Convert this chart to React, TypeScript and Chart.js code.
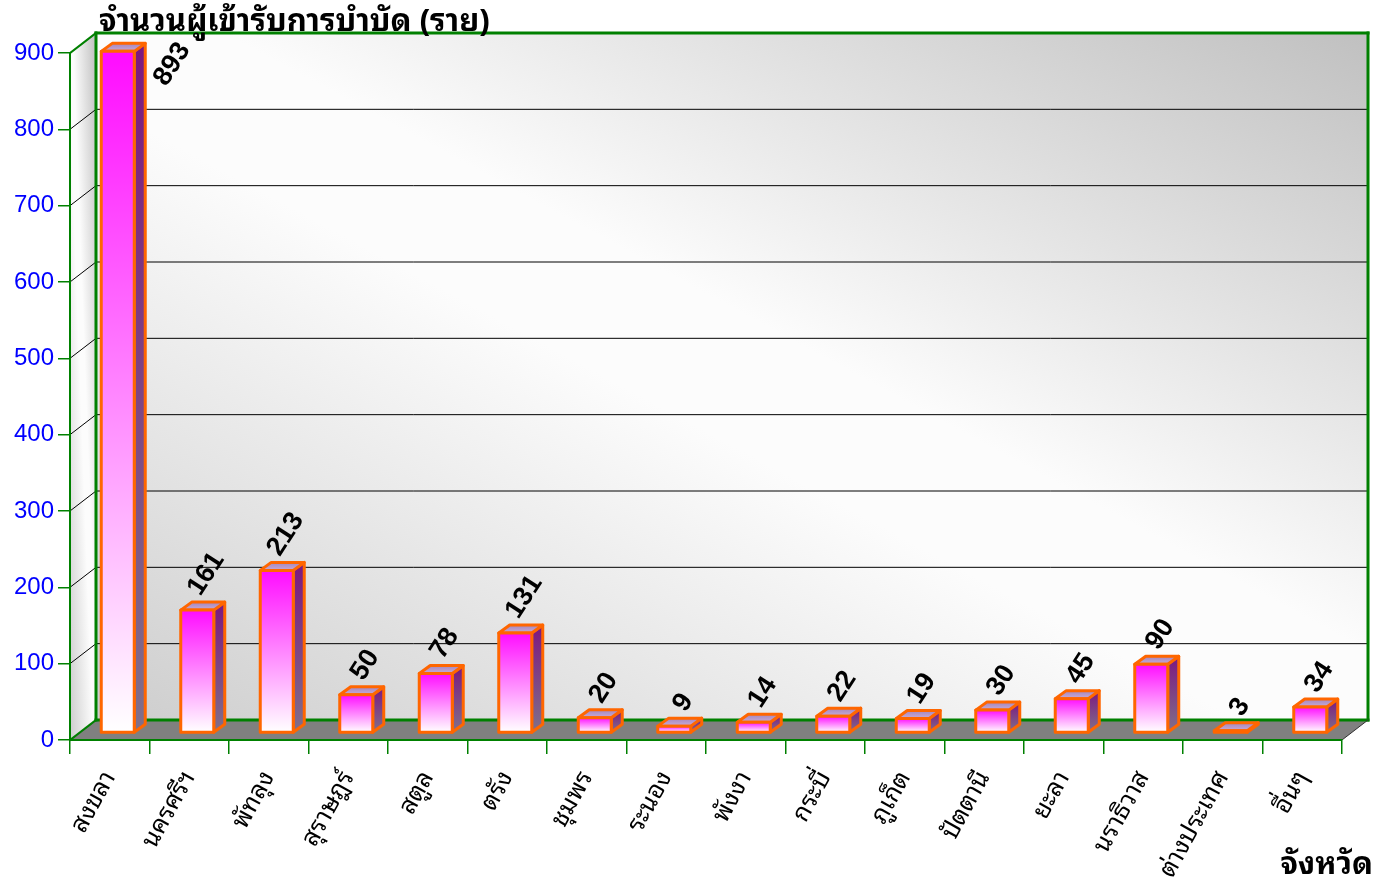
import React, { useEffect, useRef } from 'react';
import { Chart, registerables } from 'chart.js';

Chart.register(...registerables);

// ---- data ----
const categories: string[] = [
  'สงขลา', 'นครศรีฯ', 'พัทลุง', 'สุราษฎร์', 'สตูล', 'ตรัง', 'ชุมพร', 'ระนอง',
  'พังงา', 'กระบี่', 'ภูเก็ต', 'ปัตตานี', 'ยะลา', 'นราธิวาส', 'ต่างประเทศ', 'อื่นๆ',
];
const patients: number[] = [893, 161, 213, 50, 78, 131, 20, 9, 14, 22, 19, 30, 45, 90, 3, 34];
const yTicks: number[] = [0, 100, 200, 300, 400, 500, 600, 700, 800, 900];
const chartTitle = 'จำนวนผู้เข้ารับการบำบัด (ราย)';
const xAxisTitle = 'จังหวัด';

// ---- style ----
const W = 1378;
const H = 883;
const DEPTH_X = 26;
const DEPTH_Y = -20;
const BAR_SHIFT_X = 8;
const BAR_SHIFT_Y = -7;
const BAR_DX = 11;
const BAR_DY = -8;
const GREEN = '#008000';
const ORANGE = '#ff6600';
const THAI =
  "Tahoma, 'Noto Sans Thai Looped', Loma, Garuda, 'Noto Sans Thai', 'Noto Sans Thai UI', 'DejaVu Sans', 'Noto Sans', sans-serif";
const ARIAL = "Arial, 'Liberation Sans', sans-serif";
const LABEL_ANGLE = (57 * Math.PI) / 180;

function diagFill(ctx: CanvasRenderingContext2D, x: number, y: number, w: number, h: number, path: () => void) {
  ctx.save();
  ctx.beginPath();
  path();
  ctx.closePath();
  ctx.clip();
  ctx.translate(x, y);
  ctx.scale(w, h);
  const g = ctx.createLinearGradient(1, 0, 0, 1);
  g.addColorStop(0, '#c0c0c0');
  g.addColorStop(0.45, '#fcfcfc');
  g.addColorStop(0.55, '#fcfcfc');
  g.addColorStop(1, '#cdcdcd');
  ctx.fillStyle = g;
  ctx.fillRect(0, 0, 1, 1);
  ctx.restore();
}

function line(ctx: CanvasRenderingContext2D, x1: number, y1: number, x2: number, y2: number, color: string, width: number) {
  ctx.save();
  ctx.strokeStyle = color;
  ctx.lineWidth = width;
  ctx.lineCap = 'square';
  ctx.beginPath();
  ctx.moveTo(x1, y1);
  ctx.lineTo(x2, y2);
  ctx.stroke();
  ctx.restore();
}

const threeD = {
  id: 'threeD',
  beforeDraw(chart: any) {
    const { ctx, chartArea, scales } = chart;
    const { left, right, bottom } = chartArea;
    const y = scales.y;
    const yTop = y.getPixelForValue(yTicks[yTicks.length - 1]);
    const bx0 = left + DEPTH_X;
    const bx1 = right + DEPTH_X;
    const by0 = yTop + DEPTH_Y;
    const by1 = bottom + DEPTH_Y;

    // back wall
    diagFill(ctx, bx0, by0, bx1 - bx0, by1 - by0, () => {
      ctx.rect(bx0, by0, bx1 - bx0, by1 - by0);
    });
    // left wall
    diagFill(ctx, left, by0, bx0 - left, bottom - by0, () => {
      ctx.moveTo(left, yTop);
      ctx.lineTo(bx0, by0);
      ctx.lineTo(bx0, by1);
      ctx.lineTo(left, bottom);
    });
    // floor
    ctx.save();
    ctx.fillStyle = '#808080';
    ctx.beginPath();
    ctx.moveTo(left, bottom);
    ctx.lineTo(right, bottom);
    ctx.lineTo(bx1, by1);
    ctx.lineTo(bx0, by1);
    ctx.closePath();
    ctx.fill();
    ctx.restore();

    // gridlines
    for (const v of yTicks) {
      if (v === 0 || v === yTicks[yTicks.length - 1]) continue;
      const py = y.getPixelForValue(v);
      line(ctx, bx0, py + DEPTH_Y, bx1, py + DEPTH_Y, '#000000', 1);
      line(ctx, left, py, bx0, py + DEPTH_Y, '#000000', 1);
    }

    // outlines
    line(ctx, bx0, by0, bx1, by0, GREEN, 3);
    line(ctx, bx1, by0, bx1, by1, GREEN, 3);
    line(ctx, bx0, by0, bx0, by1, GREEN, 3);
    line(ctx, bx0, by1, bx1, by1, GREEN, 3);
    line(ctx, left, yTop, bx0, by0, GREEN, 2);
    line(ctx, left, bottom, bx0, by1, GREEN, 2);
    line(ctx, right, bottom, bx1, by1, '#303030', 1);
  },
  afterDatasetsDraw(chart: any) {
    const { ctx, scales } = chart;
    const y = scales.y;
    const wallTop = y.getPixelForValue(yTicks[yTicks.length - 1]) + DEPTH_Y;
    const meta = chart.getDatasetMeta(0);
    meta.data.forEach((el: any, i: number) => {
      const p = el.getProps(['x', 'y', 'base', 'width'], true);
      const L = p.x - p.width / 2 + BAR_SHIFT_X;
      const R = p.x + p.width / 2 + BAR_SHIFT_X;
      const T = p.y + BAR_SHIFT_Y;
      const B = p.base + BAR_SHIFT_Y;

      ctx.save();
      ctx.lineJoin = 'round';
      ctx.lineWidth = 3;
      ctx.strokeStyle = ORANGE;

      // side face
      const sg = ctx.createLinearGradient(0, T + BAR_DY, 0, B);
      sg.addColorStop(0, '#7c1880');
      sg.addColorStop(1, '#80708a');
      ctx.fillStyle = sg;
      ctx.beginPath();
      ctx.moveTo(R, T);
      ctx.lineTo(R + BAR_DX, T + BAR_DY);
      ctx.lineTo(R + BAR_DX, B + BAR_DY);
      ctx.lineTo(R, B);
      ctx.closePath();
      ctx.fill();
      ctx.stroke();

      // top face
      const tg = ctx.createLinearGradient(0, T + BAR_DY, 0, T);
      tg.addColorStop(0, '#a487bd');
      tg.addColorStop(1, '#c9aad6');
      ctx.fillStyle = tg;
      ctx.beginPath();
      ctx.moveTo(L, T);
      ctx.lineTo(L + BAR_DX, T + BAR_DY);
      ctx.lineTo(R + BAR_DX, T + BAR_DY);
      ctx.lineTo(R, T);
      ctx.closePath();
      ctx.fill();
      ctx.stroke();

      // front face
      const fg = ctx.createLinearGradient(0, T, 0, B);
      fg.addColorStop(0, '#ff0cff');
      fg.addColorStop(1, '#ffffff');
      ctx.fillStyle = fg;
      ctx.beginPath();
      ctx.rect(L, T, R - L, B - T);
      ctx.fill();
      ctx.stroke();
      ctx.restore();

      // value label
      const txt = String(patients[i]);
      ctx.save();
      ctx.font = `bold 27px ${ARIAL}`;
      const tw = ctx.measureText(txt).width;
      const th = 19;
      const bh = tw * Math.sin(LABEL_ANGLE) + th * Math.cos(LABEL_ANGLE);
      let cx = (L + R) / 2 + 9;
      let cy = T + BAR_DY - 4 - bh / 2;
      if (cy - bh / 2 < wallTop) {
        cx = R + 38;
        cy = T + 13;
      }
      ctx.translate(cx, cy);
      ctx.rotate(-LABEL_ANGLE);
      ctx.fillStyle = '#000000';
      ctx.textAlign = 'center';
      ctx.textBaseline = 'middle';
      ctx.fillText(txt, 0, 0);
      ctx.restore();
    });
  },
  afterDraw(chart: any) {
    const { ctx } = chart;
    ctx.save();
    ctx.fillStyle = '#000000';
    ctx.font = `bold 31px ${THAI}`;
    ctx.textAlign = 'left';
    ctx.textBaseline = 'alphabetic';
    ctx.fillText(chartTitle, 99, 31);
    ctx.textAlign = 'right';
    ctx.fillText(xAxisTitle, 1373, 874);
    ctx.restore();
  },
};

export default function App() {
  const ref = useRef<HTMLCanvasElement>(null);
  useEffect(() => {
    document.body.style.margin = '0';
    const canvas = ref.current!;
    const chart = new Chart(canvas, {
      type: 'bar',
      data: {
        labels: categories,
        datasets: [
          {
            label: 'ผู้เข้ารับการบำบัด',
            data: patients,
            backgroundColor: 'rgba(0,0,0,0)',
            borderWidth: 0,
            barPercentage: 1,
            categoryPercentage: 0.415,
          },
        ],
      },
      options: {
        responsive: false,
        animation: false,
        devicePixelRatio: 1,
        layout: { padding: { top: 53, right: 36, left: 0, bottom: 0 } },
        plugins: {
          legend: { display: false },
          tooltip: { enabled: false },
          title: { display: false },
        },
        scales: {
          x: {
            type: 'category',
            offset: true,
            grid: {
              display: true,
              drawOnChartArea: false,
              drawTicks: true,
              tickLength: 14,
              color: GREEN,
              lineWidth: 1.5,
              offset: true,
            },
            border: { display: true, color: GREEN, width: 2 },
            ticks: {
              autoSkip: false,
              maxRotation: 61,
              minRotation: 61,
              color: '#000000',
              padding: 12,
              font: { family: THAI, size: 25 },
            },
            afterFit: (s: any) => {
              s.height = 143;
            },
          },
          y: {
            min: yTicks[0],
            max: yTicks[yTicks.length - 1],
            grid: {
              display: true,
              drawOnChartArea: false,
              drawTicks: true,
              tickLength: 12,
              color: GREEN,
              lineWidth: 1.5,
            },
            border: { display: true, color: GREEN, width: 2 },
            ticks: {
              color: '#0000ff',
              padding: 4,
              font: { family: ARIAL, size: 24 },
            },
            afterBuildTicks: (s: any) => {
              s.ticks = yTicks.map((v) => ({ value: v }));
            },
            afterFit: (s: any) => {
              s.width = 70;
            },
          },
        },
      },
      plugins: [threeD],
    } as any);
    return () => chart.destroy();
  }, []);
  return <canvas ref={ref} width={W} height={H} style={{ display: 'block', width: W, height: H }} />;
}
